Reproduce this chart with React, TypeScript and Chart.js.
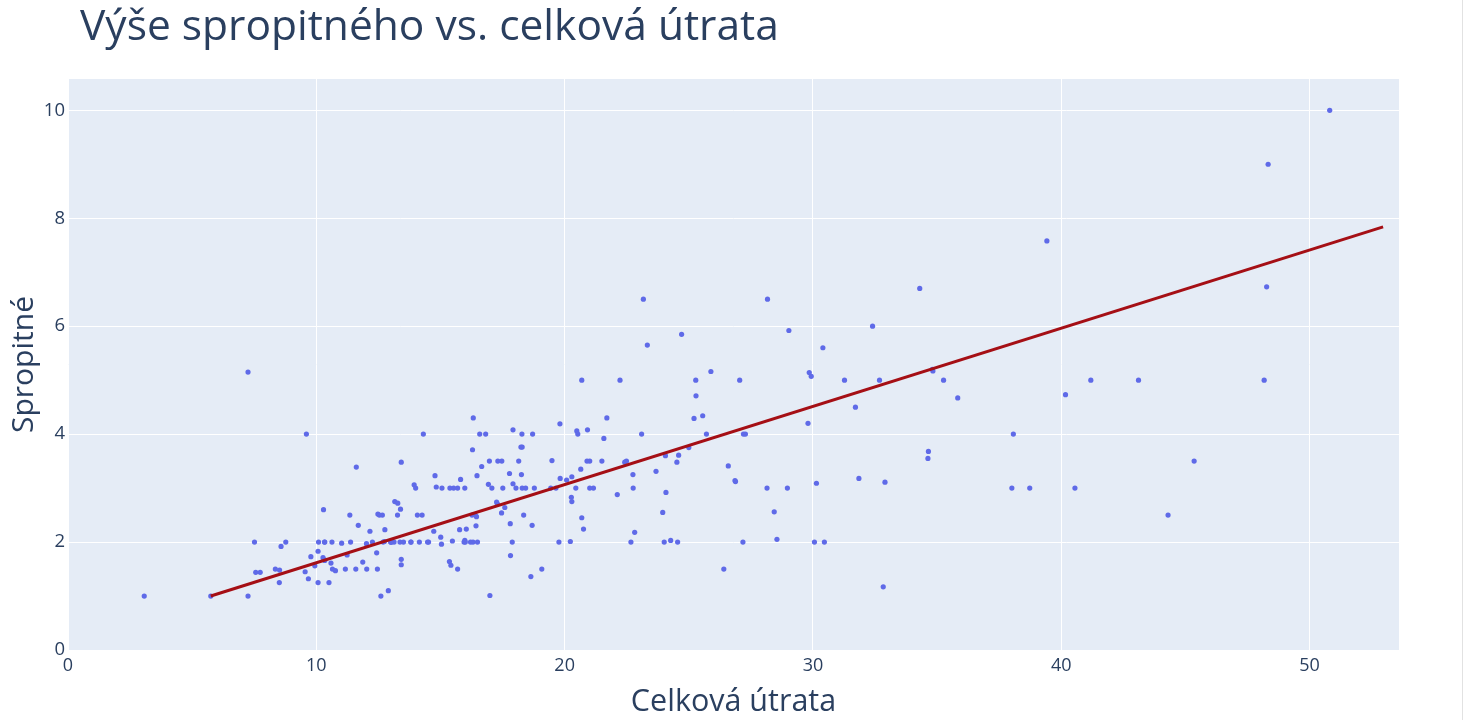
import React, { useEffect, useRef } from "react";
import { Chart, registerables } from "chart.js";

Chart.register(...registerables);

const TITLE = "Výše spropitného vs. celková útrata";
const X_TITLE = "Celková útrata";
const Y_TITLE = "Spropitné";

const totalBill: number[] = [
  16.99, 10.34, 21.01, 23.68, 24.59, 25.29, 8.77, 26.88, 15.04, 14.78,
  10.27, 35.26, 15.42, 18.43, 14.83, 21.58, 10.33, 16.29, 16.97, 20.65,
  17.92, 20.29, 15.77, 39.42, 19.82, 17.81, 13.37, 12.69, 21.7, 19.65,
  9.55, 18.35, 15.06, 20.69, 17.78, 24.06, 16.31, 16.93, 18.69, 31.27,
  16.04, 17.46, 13.94, 9.68, 30.4, 18.29, 22.23, 32.4, 28.55, 18.04,
  12.54, 10.29, 34.81, 9.94, 25.56, 19.49, 38.01, 26.41, 11.24, 48.27,
  20.29, 13.81, 11.02, 18.29, 17.59, 20.08, 16.45, 3.07, 20.23, 15.01,
  12.02, 17.07, 26.86, 25.28, 14.73, 10.51, 17.92, 27.2, 22.76, 17.29,
  19.44, 16.66, 10.07, 32.68, 15.98, 34.83, 13.03, 18.28, 24.71, 21.16,
  28.97, 22.49, 5.75, 16.32, 22.75, 40.17, 27.28, 12.03, 21.01, 12.46,
  11.35, 15.38, 44.3, 22.42, 20.92, 15.36, 20.49, 25.21, 18.24, 14.31,
  14.0, 7.25, 38.07, 23.95, 25.71, 17.31, 29.93, 10.65, 12.43, 24.08,
  11.69, 13.42, 14.26, 15.95, 12.48, 29.8, 8.52, 14.52, 11.38, 22.82,
  19.08, 20.27, 11.17, 12.26, 18.26, 8.51, 10.33, 14.15, 16.0, 13.16,
  17.47, 34.3, 41.19, 27.05, 16.43, 8.35, 18.64, 11.87, 9.78, 7.51,
  14.07, 13.13, 17.26, 24.55, 19.77, 29.85, 48.17, 25.0, 13.39, 16.49,
  21.5, 12.66, 16.21, 13.81, 17.51, 24.52, 20.76, 31.71, 10.59, 10.63,
  50.81, 15.81, 7.25, 31.85, 16.82, 32.9, 17.89, 14.48, 9.6, 34.63,
  34.65, 23.33, 45.35, 23.17, 40.55, 20.69, 20.9, 30.46, 18.15, 23.1,
  15.69, 19.81, 28.44, 15.48, 16.58, 7.56, 10.34, 43.11, 13.0, 13.51,
  18.71, 12.74, 13.0, 16.4, 20.53, 16.47, 26.59, 38.73, 24.27, 12.76,
  30.06, 25.89, 48.33, 13.27, 28.17, 12.9, 28.15, 11.59, 7.74, 30.14,
  12.16, 13.42, 8.58, 15.98, 13.42, 16.27, 10.09, 20.45, 13.28, 22.12,
  24.01, 15.69, 11.61, 10.77, 15.53, 10.07, 12.6, 32.83, 35.83, 29.03,
  27.18, 22.67, 17.82, 18.78,
];

const tip: number[] = [
  1.01, 1.66, 3.5, 3.31, 3.61, 4.71, 2.0, 3.12, 1.96, 3.23,
  1.71, 5.0, 1.57, 3.0, 3.02, 3.92, 1.67, 3.71, 3.5, 3.35,
  4.08, 2.75, 2.23, 7.58, 3.18, 2.34, 2.0, 2.0, 4.3, 3.0,
  1.45, 2.5, 3.0, 2.45, 3.27, 3.6, 2.0, 3.07, 2.31, 5.0,
  2.24, 2.54, 3.06, 1.32, 5.6, 3.0, 5.0, 6.0, 2.05, 3.0,
  2.5, 2.6, 5.2, 1.56, 4.34, 3.51, 3.0, 1.5, 1.76, 6.73,
  3.21, 2.0, 1.98, 3.76, 2.64, 3.15, 2.47, 1.0, 2.01, 2.09,
  1.97, 3.0, 3.14, 5.0, 2.2, 1.25, 3.08, 4.0, 3.0, 2.71,
  3.0, 3.4, 1.83, 5.0, 2.03, 5.17, 2.0, 4.0, 5.85, 3.0,
  3.0, 3.5, 1.0, 4.3, 3.25, 4.73, 4.0, 1.5, 3.0, 1.5,
  2.5, 3.0, 2.5, 3.48, 4.08, 1.64, 4.06, 4.29, 3.76, 4.0,
  3.0, 1.0, 4.0, 2.55, 4.0, 3.5, 5.07, 1.5, 1.8, 2.92,
  2.31, 1.68, 2.5, 2.0, 2.52, 4.2, 1.48, 2.0, 2.0, 2.18,
  1.5, 2.83, 1.5, 2.0, 3.25, 1.25, 2.0, 2.0, 2.0, 2.75,
  3.5, 6.7, 5.0, 5.0, 2.3, 1.5, 1.36, 1.63, 1.73, 2.0,
  2.5, 2.0, 2.74, 2.0, 2.0, 5.14, 5.0, 3.75, 2.61, 2.0,
  3.5, 2.5, 2.0, 2.0, 3.0, 3.48, 2.24, 4.5, 1.61, 2.0,
  10.0, 3.16, 5.15, 3.18, 4.0, 3.11, 2.0, 2.0, 4.0, 3.55,
  3.68, 5.65, 3.5, 6.5, 3.0, 5.0, 3.5, 2.0, 3.5, 4.0,
  1.5, 4.19, 2.56, 2.02, 4.0, 1.44, 2.0, 5.0, 2.0, 2.0,
  4.0, 2.01, 2.0, 2.5, 4.0, 3.23, 3.41, 3.0, 2.03, 2.23,
  2.0, 5.16, 9.0, 2.5, 6.5, 1.1, 3.0, 1.5, 1.44, 3.09,
  2.2, 3.48, 1.92, 3.0, 1.58, 2.5, 2.0, 3.0, 2.72, 2.88,
  2.0, 3.0, 3.39, 1.47, 3.0, 1.25, 1.0, 1.17, 4.67, 5.92,
  2.0, 2.0, 1.75, 3.0,
];

const trendX: number[] = [5.75, 52.96];
const trendY: number[] = [1.0, 7.84];

const xTickValues: number[] = [0, 10, 20, 30, 40, 50];
const yTickValues: number[] = [0, 2, 4, 6, 8, 10];

const X_MIN = 0;
const X_MAX = 53.6;
const Y_MIN = 0;
const Y_MAX = 10.58;

const FONT = "'Open Sans', 'Noto Sans', sans-serif";
const TEXT_COLOR = "#2a3f5f";

export default function App() {
  const canvasRef = useRef<HTMLCanvasElement | null>(null);

  useEffect(() => {
    const canvas = canvasRef.current;
    if (!canvas) return;

    const bgPlugin = {
      id: "plotBg",
      beforeDraw(chart: any) {
        const { ctx, chartArea } = chart;
        ctx.save();
        ctx.fillStyle = "#ffffff";
        ctx.fillRect(0, 0, chart.width, chart.height);
        ctx.fillStyle = "#E5ECF6";
        ctx.fillRect(
          chartArea.left,
          chartArea.top,
          chartArea.right - chartArea.left,
          chartArea.bottom - chartArea.top
        );
        ctx.restore();
      },
      afterDraw(chart: any) {
        const { ctx } = chart;
        ctx.save();
        ctx.fillStyle = TEXT_COLOR;
        ctx.font = `42.5px ${FONT}`;
        ctx.textBaseline = "alphabetic";
        ctx.textAlign = "left";
        ctx.fillText(TITLE, 80, 40);
        ctx.restore();
      },
    };

    const chart = new Chart(canvas, {
      type: "scatter",
      data: {
        datasets: [
          {
            type: "line",
            data: trendX.map((x, i) => ({ x, y: trendY[i] })),
            borderColor: "#a50f15",
            backgroundColor: "#a50f15",
            borderWidth: 3,
            pointRadius: 0,
            fill: false,
            order: 0,
          } as any,
          {
            type: "scatter",
            data: totalBill.map((x, i) => ({ x, y: tip[i] })),
            backgroundColor: "#5f6ae8",
            borderColor: "#5f6ae8",
            borderWidth: 0,
            pointRadius: 2.6,
            order: 1,
          },
        ],
      },
      options: {
        responsive: false,
        animation: false,
        layout: { padding: { left: 0, right: 63, top: 79, bottom: 0 } },
        plugins: {
          legend: { display: false },
          tooltip: { enabled: false },
          title: { display: false },
        },
        scales: {
          x: {
            type: "linear",
            min: X_MIN,
            max: X_MAX,
            afterBuildTicks(scale: any) {
              scale.ticks = xTickValues.map((v) => ({ value: v }));
            },
            afterFit(scale: any) {
              scale.height = 70;
            },
            grid: { color: "#ffffff", lineWidth: 1, drawTicks: false },
            border: { display: false },
            ticks: {
              padding: 5,
              color: TEXT_COLOR,
              font: { family: FONT, size: 18 },
              maxRotation: 0,
            },
            title: {
              display: true,
              text: X_TITLE,
              color: TEXT_COLOR,
              font: { family: FONT, size: 30.5, lineHeight: 1 },
              padding: { top: 0, bottom: 2 },
            },
          },
          y: {
            type: "linear",
            min: Y_MIN,
            max: Y_MAX,
            afterBuildTicks(scale: any) {
              scale.ticks = yTickValues.map((v) => ({ value: v }));
            },
            afterFit(scale: any) {
              scale.width = 68;
            },
            grid: { color: "#ffffff", lineWidth: 1, drawTicks: false },
            border: { display: false },
            ticks: {
              padding: 3,
              color: TEXT_COLOR,
              font: { family: FONT, size: 18.5 },
            },
            title: {
              display: true,
              text: Y_TITLE,
              color: TEXT_COLOR,
              font: { family: FONT, size: 30, lineHeight: 1 },
              padding: { top: 9, bottom: 0 },
            },
          },
        },
      },
      plugins: [bgPlugin],
    });

    return () => chart.destroy();
  }, []);

  return (
    <div
      style={{
        position: "fixed",
        left: 0,
        top: 0,
        width: 1463,
        height: 720,
        background: "#ffffff",
      }}
    >
      <canvas ref={canvasRef} width={1462} height={720} style={{ display: "block" }} />
      <div
        style={{
          position: "absolute",
          left: 1462,
          top: 0,
          width: 1,
          height: 720,
          background: "#e2e2e2",
        }}
      />
    </div>
  );
}
